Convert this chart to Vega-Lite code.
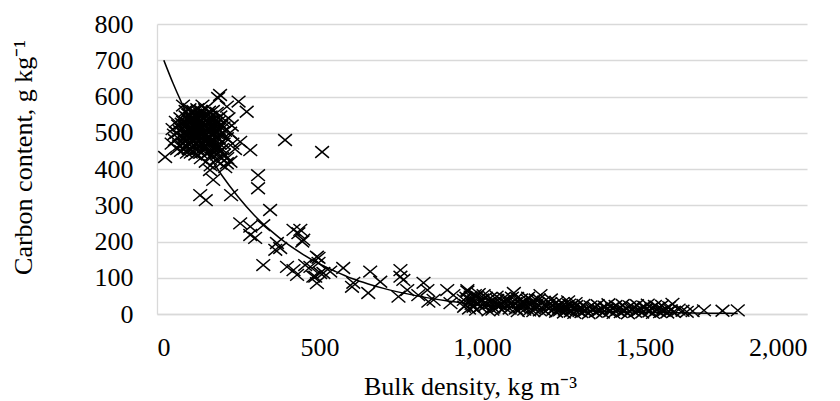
{
  "$schema": "https://vega.github.io/schema/vega-lite/v6.json",
  "width": 650,
  "height": 290,
  "autosize": {"type": "none"},
  "padding": {"left": 157, "top": 24, "right": 33, "bottom": 87},
  "background": "white",
  "config": {
    "view": {"stroke": null},
    "font": "Liberation Serif",
    "axis": {
      "labelFont": "Liberation Serif",
      "labelFontSize": 26,
      "labelColor": "#000000",
      "labelOverlap": false,
      "titleFont": "Liberation Serif",
      "titleFontSize": 26,
      "titleFontWeight": "normal",
      "titleColor": "#000000",
      "gridColor": "#d9d9d9",
      "gridWidth": 1.3,
      "domainColor": "#d9d9d9",
      "domainWidth": 1.3,
      "ticks": false,
      "tickSize": 0
    },
    "axisX": {"grid": false, "labelPadding": 20, "titlePadding": 13, "titleX": 313},
    "axisY": {"grid": true, "labelPadding": 24, "titlePadding": 58, "titleY": 133}
  },
  "datasets": {
    "points": [
      {"x":60,"y":500},{"x":65,"y":520},{"x":70,"y":490},{"x":72,"y":540},{"x":75,"y":510},{"x":78,"y":470},{"x":80,"y":530},{"x":82,"y":500},{"x":85,"y":515},{"x":86,"y":485},
      {"x":88,"y":545},{"x":90,"y":505},{"x":92,"y":525},{"x":94,"y":495},{"x":95,"y":470},{"x":96,"y":550},{"x":98,"y":510},{"x":100,"y":530},{"x":100,"y":490},{"x":102,"y":515},
      {"x":104,"y":500},{"x":105,"y":540},{"x":106,"y":480},{"x":108,"y":520},{"x":110,"y":505},{"x":110,"y":460},{"x":112,"y":535},{"x":113,"y":495},{"x":115,"y":515},{"x":116,"y":550},
      {"x":118,"y":485},{"x":120,"y":525},{"x":120,"y":500},{"x":122,"y":470},{"x":124,"y":540},{"x":125,"y":510},{"x":126,"y":490},{"x":128,"y":520},{"x":130,"y":555},{"x":130,"y":505},
      {"x":132,"y":480},{"x":134,"y":530},{"x":135,"y":495},{"x":136,"y":515},{"x":138,"y":545},{"x":140,"y":500},{"x":140,"y":470},{"x":142,"y":525},{"x":144,"y":490},{"x":145,"y":510},
      {"x":146,"y":540},{"x":148,"y":460},{"x":150,"y":520},{"x":150,"y":495},{"x":152,"y":535},{"x":154,"y":505},{"x":155,"y":480},{"x":156,"y":550},{"x":158,"y":515},{"x":160,"y":490},
      {"x":160,"y":530},{"x":162,"y":470},{"x":164,"y":505},{"x":165,"y":545},{"x":168,"y":520},{"x":170,"y":495},{"x":172,"y":480},{"x":174,"y":535},{"x":175,"y":510},{"x":178,"y":460},
      {"x":180,"y":525},{"x":182,"y":500},{"x":185,"y":485},{"x":188,"y":540},{"x":190,"y":510},{"x":192,"y":470},{"x":195,"y":495},{"x":198,"y":520},{"x":55,"y":480},{"x":58,"y":530},
      {"x":62,"y":455},{"x":68,"y":465},{"x":74,"y":450},{"x":84,"y":455},{"x":92,"y":445},{"x":98,"y":455},{"x":104,"y":445},{"x":112,"y":450},{"x":118,"y":440},{"x":126,"y":455},
      {"x":134,"y":445},{"x":142,"y":450},{"x":150,"y":455},{"x":158,"y":445},{"x":166,"y":450},{"x":170,"y":460},{"x":88,"y":560},{"x":100,"y":565},{"x":112,"y":560},{"x":124,"y":565},
      {"x":136,"y":560},{"x":148,"y":565},{"x":160,"y":558},{"x":172,"y":560},{"x":184,"y":555},{"x":195,"y":545},{"x":205,"y":530},{"x":210,"y":505},{"x":215,"y":485},{"x":205,"y":470},
      {"x":200,"y":455},{"x":48,"y":510},{"x":52,"y":495},{"x":45,"y":470},{"x":80,"y":575},{"x":140,"y":575},{"x":110,"y":475},{"x":130,"y":465},{"x":120,"y":545},{"x":96,"y":535},
      {"x":108,"y":555},{"x":138,"y":525},{"x":146,"y":500},{"x":154,"y":470},{"x":166,"y":480},{"x":176,"y":470},{"x":186,"y":460},{"x":196,"y":450},{"x":206,"y":440},{"x":216,"y":430},
      {"x":226,"y":420},{"x":135,"y":430},{"x":150,"y":420},{"x":165,"y":410},{"x":180,"y":425},{"x":195,"y":415},{"x":210,"y":405},{"x":163,"y":397},{"x":173,"y":370},{"x":185,"y":440},
      {"x":200,"y":430},{"x":215,"y":416},{"x":232,"y":470},{"x":240,"y":455},{"x":225,"y":500},{"x":230,"y":520},{"x":220,"y":540},{"x":215,"y":572},
      {"x":70,"y":505},{"x":76,"y":525},{"x":84,"y":495},{"x":88,"y":520},{"x":94,"y":540},{"x":102,"y":485},{"x":106,"y":530},{"x":114,"y":505},{"x":118,"y":520},{"x":124,"y":495},
      {"x":128,"y":540},{"x":132,"y":510},{"x":136,"y":485},{"x":142,"y":540},{"x":146,"y":520},{"x":152,"y":485},{"x":156,"y":530},{"x":162,"y":510},{"x":168,"y":535},{"x":172,"y":500},
      {"x":178,"y":520},{"x":184,"y":505},{"x":190,"y":530},{"x":80,"y":485},{"x":90,"y":465},{"x":100,"y":475},{"x":115,"y":465},{"x":125,"y":475},{"x":140,"y":485},{"x":160,"y":475},
      {"x":170,"y":440},{"x":180,"y":450},{"x":190,"y":485},{"x":200,"y":500},{"x":205,"y":515},{"x":95,"y":525},{"x":105,"y":505},{"x":125,"y":530},{"x":135,"y":550},{"x":150,"y":545},
      {"x":194,"y":604},{"x":188,"y":596},{"x":251,"y":586},{"x":276,"y":558},{"x":394,"y":480},{"x":508,"y":447},{"x":25,"y":433},{"x":256,"y":475},{"x":287,"y":452},{"x":311,"y":383},
      {"x":311,"y":347},{"x":133,"y":328},{"x":150,"y":314},{"x":228,"y":328},{"x":348,"y":287},{"x":256,"y":250},{"x":287,"y":241},{"x":327,"y":245},{"x":302,"y":210},{"x":287,"y":218},
      {"x":369,"y":196},{"x":379,"y":182},{"x":364,"y":177},{"x":420,"y":232},{"x":435,"y":223},{"x":447,"y":200},{"x":441,"y":232},{"x":450,"y":205},{"x":327,"y":135},{"x":400,"y":130},
      {"x":420,"y":121},{"x":431,"y":108},{"x":456,"y":135},{"x":497,"y":155},{"x":492,"y":85},{"x":481,"y":103},{"x":512,"y":113},{"x":492,"y":158},{"x":497,"y":141},{"x":472,"y":130},
      {"x":487,"y":103},{"x":502,"y":113},{"x":533,"y":117},{"x":573,"y":127},{"x":600,"y":75},{"x":604,"y":86},{"x":656,"y":117},{"x":650,"y":58},{"x":687,"y":89},{"x":749,"y":121},
      {"x":749,"y":103},{"x":758,"y":94},{"x":743,"y":48},{"x":770,"y":66},{"x":820,"y":86},{"x":832,"y":66},{"x":804,"y":52},{"x":851,"y":39},{"x":835,"y":34},{"x":893,"y":66},
      {"x":912,"y":52},{"x":903,"y":30},{"x":955,"y":66},{"x":965,"y":39},{"x":974,"y":20},{"x":985,"y":48},
      {"x":955,"y":62},{"x":965,"y":48},{"x":944,"y":39},{"x":985,"y":30},{"x":1005,"y":52},{"x":1026,"y":44},{"x":1047,"y":39},{"x":1067,"y":44},{"x":1098,"y":58},{"x":1108,"y":44},
      {"x":1119,"y":30},{"x":1139,"y":39},{"x":1180,"y":52},{"x":1190,"y":34},{"x":950,"y":25},{"x":975,"y":35},{"x":995,"y":20},{"x":1015,"y":28},{"x":1035,"y":18},{"x":1055,"y":25},
      {"x":1075,"y":30},{"x":1085,"y":15},{"x":1095,"y":25},{"x":1115,"y":18},{"x":1125,"y":22},{"x":1150,"y":25},{"x":1160,"y":15},{"x":1170,"y":28},{"x":1200,"y":20},{"x":1210,"y":30},
      {"x":1220,"y":12},{"x":1000,"y":40},{"x":1040,"y":30},{"x":1060,"y":12},{"x":1080,"y":40},{"x":1130,"y":12},{"x":1185,"y":15},{"x":960,"y":15},{"x":990,"y":55},{"x":1020,"y":10},
      {"x":1110,"y":8},{"x":1145,"y":10},{"x":1165,"y":40},
      {"x":945,"y":20},{"x":952,"y":45},{"x":968,"y":28},{"x":978,"y":52},{"x":982,"y":12},{"x":998,"y":35},{"x":1008,"y":22},{"x":1012,"y":45},{"x":1028,"y":30},{"x":1032,"y":12},
      {"x":1045,"y":48},{"x":1050,"y":20},{"x":1065,"y":35},{"x":1070,"y":18},{"x":1088,"y":28},{"x":1092,"y":45},{"x":1102,"y":30},{"x":1104,"y":15},{"x":1120,"y":40},{"x":1128,"y":30},
      {"x":1135,"y":25},{"x":1142,"y":45},{"x":1155,"y":35},{"x":1158,"y":8},{"x":1168,"y":20},{"x":1175,"y":40},{"x":1178,"y":10},{"x":1192,"y":25},{"x":1195,"y":8},{"x":1205,"y":15},
      {"x":1212,"y":40},{"x":1215,"y":22},{"x":1230,"y":32},{"x":1238,"y":16},{"x":1248,"y":30},{"x":1255,"y":12},{"x":1265,"y":35},{"x":1275,"y":22},{"x":1288,"y":30},{"x":1300,"y":8},
      {"x":1225,"y":18},{"x":1228,"y":6},{"x":1235,"y":24},{"x":1240,"y":10},{"x":1246,"y":15},{"x":1252,"y":4},{"x":1258,"y":20},{"x":1262,"y":12},{"x":1268,"y":26},{"x":1273,"y":7},
      {"x":1279,"y":16},{"x":1284,"y":3},{"x":1290,"y":22},{"x":1295,"y":11},{"x":1301,"y":17},{"x":1306,"y":5},{"x":1312,"y":25},{"x":1317,"y":9},{"x":1323,"y":14},{"x":1328,"y":2},
      {"x":1334,"y":21},{"x":1339,"y":12},{"x":1345,"y":18},{"x":1350,"y":6},{"x":1356,"y":24},{"x":1361,"y":10},{"x":1367,"y":15},{"x":1372,"y":4},{"x":1378,"y":20},{"x":1383,"y":13},
      {"x":1389,"y":27},{"x":1394,"y":7},{"x":1400,"y":16},{"x":1405,"y":3},{"x":1411,"y":22},{"x":1416,"y":11},{"x":1422,"y":17},{"x":1427,"y":5},{"x":1433,"y":25},{"x":1438,"y":9},
      {"x":1444,"y":14},{"x":1449,"y":2},{"x":1455,"y":21},{"x":1460,"y":12},{"x":1466,"y":18},{"x":1471,"y":6},{"x":1477,"y":24},{"x":1482,"y":10},{"x":1488,"y":15},{"x":1493,"y":4},
      {"x":1499,"y":20},{"x":1504,"y":13},{"x":1510,"y":26},{"x":1515,"y":7},{"x":1521,"y":16},{"x":1526,"y":3},{"x":1532,"y":22},{"x":1537,"y":11},{"x":1543,"y":17},{"x":1548,"y":5},
      {"x":1554,"y":23},{"x":1559,"y":9},{"x":1565,"y":14},{"x":1570,"y":4},{"x":1576,"y":19},{"x":1581,"y":10},{"x":1586,"y":28},{"x":1590,"y":6},
      {"x":1605,"y":12},{"x":1617,"y":9},{"x":1630,"y":6},{"x":1648,"y":8},{"x":1683,"y":10},{"x":1740,"y":9},{"x":1787,"y":10}
    ],
    "trend": [
      {"x":21,"y":700},{"x":50,"y":635},{"x":100,"y":537},{"x":150,"y":452},{"x":200,"y":382},{"x":250,"y":323},{"x":300,"y":272},{"x":350,"y":230},{"x":400,"y":194},{"x":450,"y":164},
      {"x":500,"y":138},{"x":550,"y":117},{"x":600,"y":98},{"x":650,"y":83},{"x":700,"y":70},{"x":800,"y":50},{"x":900,"y":35},{"x":1000,"y":25},{"x":1100,"y":18},{"x":1200,"y":13},
      {"x":1300,"y":9},{"x":1400,"y":6.5},{"x":1500,"y":4.6},{"x":1600,"y":3.3},{"x":1700,"y":2.3},{"x":1787,"y":1.7}
    ]
  },
  "encoding": {
    "x": {"field": "x", "type": "quantitative", "scale": {"domain": [0, 2000], "nice": false, "zero": true},
      "axis": {"values": [0, 500, 1000, 1500, 2000], "format": ",.0f", "title": "Bulk density, kg m⁻³"}},
    "y": {"field": "y", "type": "quantitative", "scale": {"domain": [0, 800], "nice": false},
      "axis": {"values": [0, 100, 200, 300, 400, 500, 600, 700, 800], "format": ".0f", "title": "Carbon content, g kg⁻¹"}}
  },
  "layer": [
    {
      "data": {"name": "points"},
      "mark": {"type": "point", "shape": "M-1,-0.85L1,0.85M-1,0.85L1,-0.85", "size": 190, "filled": false, "stroke": "#000000", "strokeWidth": 1.5, "opacity": 1}
    },
    {
      "data": {"name": "trend"},
      "mark": {"type": "line", "color": "#000000", "strokeWidth": 1.5, "interpolate": "monotone"}
    },
    {
      "data": {"values": [{"label": "y = 755.74e"}]},
      "mark": {"type": "text", "font": "Liberation Serif", "fontSize": 27, "align": "left", "baseline": "alphabetic", "color": "#000000"},
      "encoding": {
        "x": {"datum": 322, "type": "quantitative", "axis": {"values": [0, 500, 1000, 1500, 2000], "format": ",.0f", "title": "Bulk density, kg m⁻³"}},
        "y": {"datum": 712, "type": "quantitative", "axis": {"values": [0, 100, 200, 300, 400, 500, 600, 700, 800], "format": ".0f", "title": "Carbon content, g kg⁻¹"}},
        "text": {"field": "label"}}
    },
    {
      "data": {"values": [{"label": "0.00x"}]},
      "mark": {"type": "text", "font": "Liberation Serif", "fontSize": 14, "align": "left", "baseline": "alphabetic", "color": "#000000"},
      "encoding": {
        "x": {"datum": 723, "type": "quantitative", "axis": {"values": [0, 500, 1000, 1500, 2000], "format": ",.0f", "title": "Bulk density, kg m⁻³"}},
        "y": {"datum": 737, "type": "quantitative", "axis": {"values": [0, 100, 200, 300, 400, 500, 600, 700, 800], "format": ".0f", "title": "Carbon content, g kg⁻¹"}},
        "text": {"field": "label"}}
    },
    {
      "data": {"values": [{"label": "R² = 0.93"}]},
      "mark": {"type": "text", "font": "Liberation Serif", "fontSize": 26.5, "align": "left", "baseline": "alphabetic", "color": "#000000"},
      "encoding": {
        "x": {"datum": 418, "type": "quantitative", "axis": {"values": [0, 500, 1000, 1500, 2000], "format": ",.0f", "title": "Bulk density, kg m⁻³"}},
        "y": {"datum": 632, "type": "quantitative", "axis": {"values": [0, 100, 200, 300, 400, 500, 600, 700, 800], "format": ".0f", "title": "Carbon content, g kg⁻¹"}},
        "text": {"field": "label"}}
    }
  ]
}
